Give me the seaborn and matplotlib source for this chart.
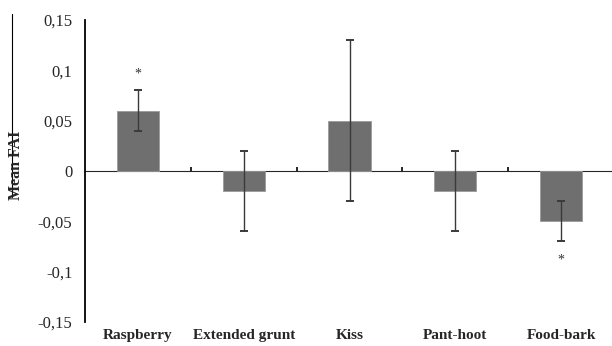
import numpy as np
import matplotlib
matplotlib.use('Agg')
import matplotlib.pyplot as plt
import seaborn as sns
import pandas as pd

categories = ['Raspberry', 'Extended grunt', 'Kiss', 'Pant-hoot', 'Food-bark']
mean_fai = [0.06, -0.02, 0.05, -0.02, -0.05]
err = [0.02, 0.04, 0.08, 0.04, 0.02]
star_y = {'Raspberry': 0.096, 'Food-bark': -0.088}
yticks = [-0.15, -0.1, -0.05, 0, 0.05, 0.1, 0.15]
ytick_labels = ['-0,15', '-0,1', '-0,05', '0', '0,05', '0,1', '0,15']

sns.set_style('white')
plt.rcParams['font.family'] = ['Liberation Serif', 'DejaVu Serif']

df = pd.DataFrame({'call': categories, 'fai': mean_fai})

fig = plt.figure(figsize=(6.12, 3.46), dpi=100)
ax = fig.add_axes([85 / 612, 24 / 346, 529 / 612, 302 / 346])

sns.barplot(data=df, x='call', y='fai', color='#6f6f6f', saturation=1,
            width=0.4, edgecolor='#9a9a9a', linewidth=0.6, errorbar=None, ax=ax)
xpos = np.arange(len(categories))
ax.errorbar(xpos, mean_fai, yerr=err, fmt='none', ecolor='#3a3a3a',
            elinewidth=1.0, capsize=3, capthick=1.4)
for name, y in star_y.items():
    ax.text(categories.index(name), y, '*', ha='center', va='center',
            fontsize=10, color='#333333')

ax.set_xlim(-0.5, 4.5)
ax.set_ylim(-0.15, 0.15)
ax.set_yticks(yticks, labels=ytick_labels)
ax.tick_params(axis='y', direction='out', length=4, width=1.2, color='black',
               labelsize=12, pad=5)
ax.tick_params(axis='x', length=0, labelsize=11, pad=5)
for lbl in ax.get_xticklabels():
    lbl.set_fontweight('bold')
ax.set_xlabel('')
ax.set_ylabel('')

for s in ['top', 'right', 'bottom']:
    ax.spines[s].set_visible(False)
ax.spines['left'].set_color('black')
ax.spines['left'].set_linewidth(1.3)

# zero line with small ticks between categories
sec = ax.secondary_xaxis(0.5)
sec.set_xticks(xpos[:-1] + 0.5, labels=[])
sec.tick_params(direction='out', length=3, width=1.2, color='black')
sec.spines['bottom'].set_linewidth(1.3)
sec.spines['bottom'].set_color('black')

fig.text(16 / 612, 1 - 165 / 346, 'Mean FAI', rotation=90, ha='center',
         va='center', fontsize=11.5, fontweight='bold')
fig.add_artist(plt.Line2D([12 / 612, 12 / 612], [1 - 14 / 346, 1 - 197 / 346],
                          color='black', lw=0.8))

fig.savefig('out.png', dpi=100)
